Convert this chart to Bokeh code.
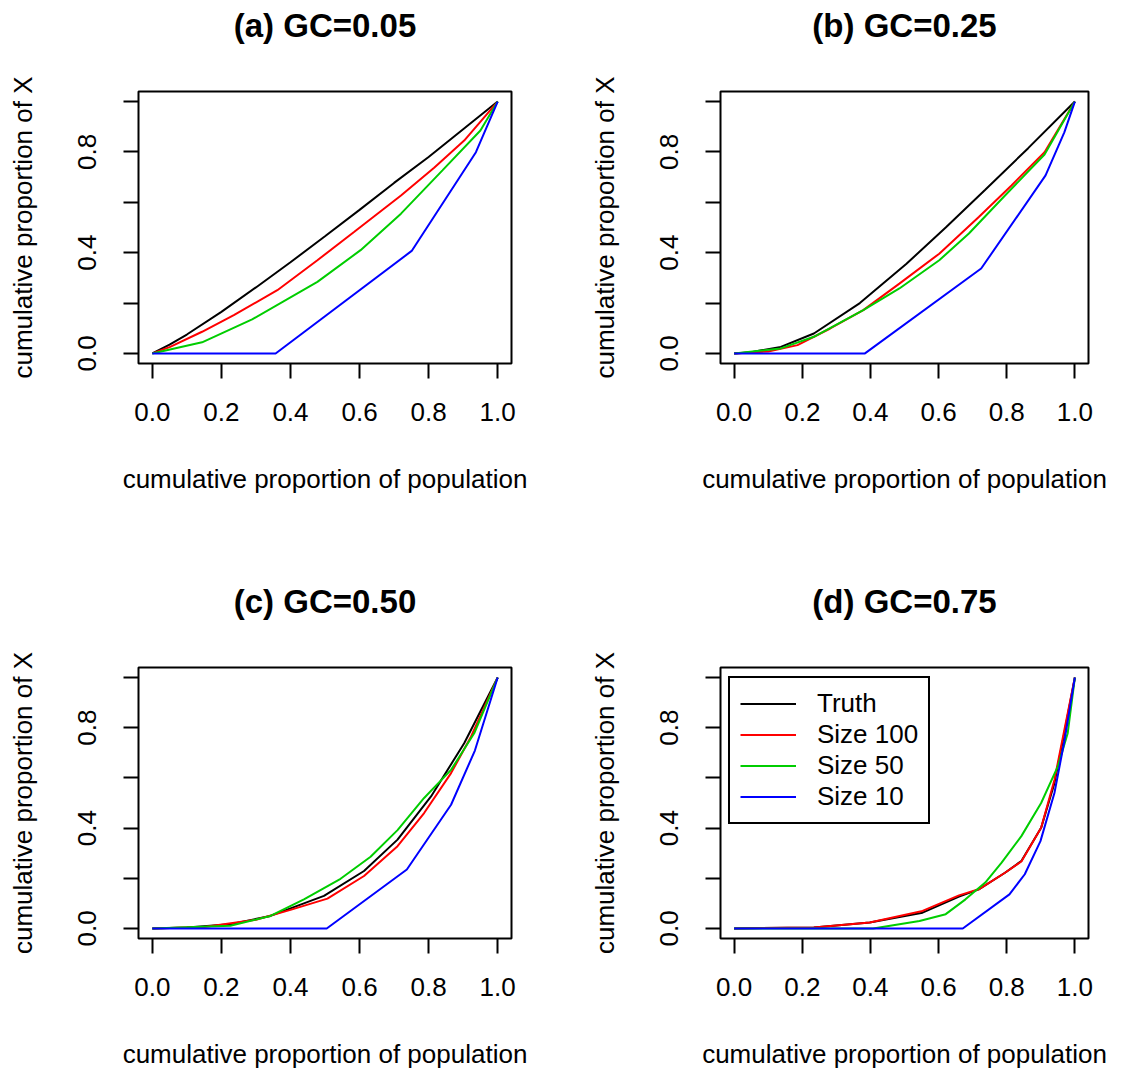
from bokeh.plotting import figure
from bokeh.layouts import gridplot
from bokeh.models import Range1d, FixedTicker, CustomJSTickFormatter, LinearAxis
from bokeh.embed import file_html
from bokeh.resources import INLINE

FONT = "Liberation Sans"

series_names = ["Truth", "Size 100", "Size 50", "Size 10"]
series_colors = ["black", "#FF0000", "#00CD00", "#0000FF"]
panel_titles = ["(a) GC=0.05", "(b) GC=0.25", "(c) GC=0.50", "(d) GC=0.75"]
x_ticks = [0.0, 0.2, 0.4, 0.6, 0.8, 1.0]
y_ticks = [0.0, 0.2, 0.4, 0.6, 0.8, 1.0]

# ---- panel (a) GC=0.05 ----
a_truth_x = [0, 0.05, 0.1, 0.2, 0.3, 0.4, 0.5, 0.6, 0.7, 0.8, 0.9, 1.0]
a_truth_y = [0, 0.035, 0.075, 0.165, 0.262, 0.362, 0.465, 0.57, 0.677, 0.78, 0.89, 1.0]
a_s100_x = [0, 0.05, 0.144, 0.236, 0.362, 0.478, 0.584, 0.72, 0.816, 0.903, 1.0]
a_s100_y = [0, 0.025, 0.086, 0.152, 0.251, 0.37, 0.482, 0.627, 0.737, 0.845, 1.0]
a_s50_x = [0, 0.144, 0.289, 0.478, 0.603, 0.72, 0.84, 0.95, 1.0]
a_s50_y = [0, 0.044, 0.135, 0.284, 0.41, 0.555, 0.727, 0.885, 1.0]
a_s10_x = [0, 0.357, 0.751, 0.937, 1.0]
a_s10_y = [0, 0, 0.407, 0.799, 1.0]

# ---- panel (b) GC=0.25 ----
b_truth_x = [0, 0.05, 0.137, 0.234, 0.369, 0.505, 0.621, 0.737, 0.863, 1.0]
b_truth_y = [0, 0.005, 0.026, 0.079, 0.2, 0.355, 0.5, 0.65, 0.815, 1.0]
b_s100_x = [0, 0.1, 0.186, 0.282, 0.379, 0.485, 0.602, 0.718, 0.814, 0.911, 1.0]
b_s100_y = [0, 0.008, 0.033, 0.099, 0.172, 0.277, 0.396, 0.542, 0.667, 0.799, 1.0]
b_s50_x = [0, 0.137, 0.234, 0.379, 0.485, 0.602, 0.689, 0.795, 0.911, 1.0]
b_s50_y = [0, 0.02, 0.066, 0.172, 0.258, 0.37, 0.476, 0.627, 0.79, 1.0]
b_s10_x = [0, 0.384, 0.725, 0.914, 0.969, 1.0]
b_s10_y = [0, 0, 0.337, 0.707, 0.878, 1.0]

# ---- panel (c) GC=0.50 ----
c_truth_x = [0, 0.1, 0.226, 0.342, 0.497, 0.613, 0.71, 0.807, 0.903, 1.0]
c_truth_y = [0, 0.004, 0.017, 0.05, 0.13, 0.229, 0.354, 0.526, 0.738, 1.0]
c_s100_x = [0, 0.15, 0.3, 0.4, 0.507, 0.613, 0.71, 0.787, 0.865, 0.923, 1.0]
c_s100_y = [0, 0.006, 0.035, 0.074, 0.119, 0.209, 0.328, 0.46, 0.619, 0.765, 1.0]
c_s50_x = [0, 0.226, 0.342, 0.439, 0.545, 0.632, 0.71, 0.787, 0.865, 0.932, 1.0]
c_s50_y = [0, 0.011, 0.05, 0.116, 0.198, 0.286, 0.392, 0.52, 0.632, 0.778, 1.0]
c_s10_x = [0, 0.505, 0.737, 0.865, 0.934, 1.0]
c_s10_y = [0, 0, 0.235, 0.493, 0.709, 1.0]

# ---- panel (d) GC=0.75 ----
d_truth_x = [0, 0.234, 0.398, 0.553, 0.66, 0.718, 0.795, 0.843, 0.901, 0.94, 0.969, 1.0]
d_truth_y = [0, 0.004, 0.024, 0.063, 0.127, 0.156, 0.222, 0.269, 0.401, 0.579, 0.778, 1.0]
d_s100_x = [0, 0.234, 0.398, 0.553, 0.66, 0.718, 0.795, 0.843, 0.901, 0.94, 0.969, 1.0]
d_s100_y = [0, 0.004, 0.024, 0.07, 0.132, 0.156, 0.222, 0.267, 0.401, 0.592, 0.79, 1.0]
d_s50_x = [0, 0.408, 0.544, 0.621, 0.679, 0.737, 0.785, 0.843, 0.901, 0.95, 0.979, 1.0]
d_s50_y = [0, 0, 0.03, 0.057, 0.116, 0.183, 0.262, 0.368, 0.5, 0.646, 0.778, 1.0]
d_s10_x = [0, 0.671, 0.808, 0.853, 0.899, 0.94, 0.969, 1.0]
d_s10_y = [0, 0, 0.136, 0.216, 0.348, 0.54, 0.745, 1.0]

panels = [
    [(a_truth_x, a_truth_y), (a_s100_x, a_s100_y), (a_s50_x, a_s50_y), (a_s10_x, a_s10_y)],
    [(b_truth_x, b_truth_y), (b_s100_x, b_s100_y), (b_s50_x, b_s50_y), (b_s10_x, b_s10_y)],
    [(c_truth_x, c_truth_y), (c_s100_x, c_s100_y), (c_s50_x, c_s50_y), (c_s10_x, c_s10_y)],
    [(d_truth_x, d_truth_y), (d_s100_x, d_s100_y), (d_s50_x, d_s50_y), (d_s10_x, d_s10_y)],
]


def make_panel(idx, width, height, bl, br, bt, bb, legend=False):
    p = figure(width=width, height=height, title=None,
               x_range=Range1d(-0.04, 1.04), y_range=Range1d(-0.04, 1.04),
               output_backend="svg", toolbar_location=None,
               min_border_left=bl, min_border_right=br,
               min_border_top=bt, min_border_bottom=bb)
    p.background_fill_color = "white"
    p.border_fill_color = "white"
    p.outline_line_color = "black"
    p.outline_line_width = 2
    p.outline_line_alpha = 1
    p.grid.visible = False

    xa = p.below[0]
    ya = p.left[0]
    for ax in (xa, ya):
        ax.axis_line_color = None
        ax.major_tick_out = 15
        ax.major_tick_in = 0
        ax.major_tick_line_width = 2
        ax.major_tick_line_color = "black"
        ax.minor_tick_line_color = None
        ax.major_label_text_font = FONT
        ax.major_label_text_font_size = "26px"
        ax.major_label_text_color = "black"
        ax.axis_label_text_font = FONT
        ax.axis_label_text_font_size = "26px"
        ax.axis_label_text_font_style = "normal"
        ax.axis_label_text_color = "black"

    xa.ticker = FixedTicker(ticks=x_ticks)
    xa.formatter = CustomJSTickFormatter(code="return tick.toFixed(1);")
    xa.major_label_standoff = 24
    xa.axis_label = "cumulative proportion of population"
    xa.axis_label_standoff = 40

    ya.ticker = FixedTicker(ticks=y_ticks)
    ya.formatter = CustomJSTickFormatter(
        code="const k = Math.round(tick * 10); return (k % 4 === 0) ? tick.toFixed(1) : '';")
    ya.major_label_orientation = "vertical"
    ya.major_label_standoff = 27
    ya.axis_label = "cumulative proportion of X"
    ya.axis_label_standoff = 38

    # panel heading: a tick-less axis above the frame carrying the bold title text
    head = LinearAxis(ticker=FixedTicker(ticks=[]), axis_label=panel_titles[idx])
    head.axis_line_color = None
    head.major_tick_line_color = None
    head.minor_tick_line_color = None
    head.major_tick_out = 0
    head.major_tick_in = 0
    head.major_label_standoff = 0
    head.axis_label_standoff = 48
    head.axis_label_text_font = FONT
    head.axis_label_text_font_style = "bold"
    head.axis_label_text_font_size = "33px"
    head.axis_label_text_color = "black"
    p.add_layout(head, "above")

    for (xs, ys), name, col in zip(panels[idx], series_names, series_colors):
        if legend:
            p.line(xs, ys, line_color=col, line_width=2, legend_label=name)
        else:
            p.line(xs, ys, line_color=col, line_width=2)

    if legend:
        lg = p.legend[0]
        lg.location = (8, 114)
        lg.border_line_color = "black"
        lg.border_line_width = 2
        lg.border_line_alpha = 1
        lg.background_fill_color = "white"
        lg.background_fill_alpha = 1
        lg.padding = 10
        lg.spacing = 0
        lg.margin = 0
        lg.glyph_width = 56
        lg.glyph_height = 29
        lg.label_height = 29
        lg.label_standoff = 21
        lg.label_text_font = FONT
        lg.label_text_font_size = "26px"
        lg.label_text_color = "black"
        lg.label_text_baseline = "middle"
    return p


pa = make_panel(0, 586, 543, 138, 75, 91, 180)
pb = make_panel(1, 529, 543, 130, 27, 91, 180)
pc = make_panel(2, 586, 528, 138, 75, 124, 132)
pd = make_panel(3, 529, 528, 130, 27, 124, 132, legend=True)

grid = gridplot([[pa, pb], [pc, pd]], toolbar_location=None)

open("out.html", "w").write(file_html(grid, INLINE))
